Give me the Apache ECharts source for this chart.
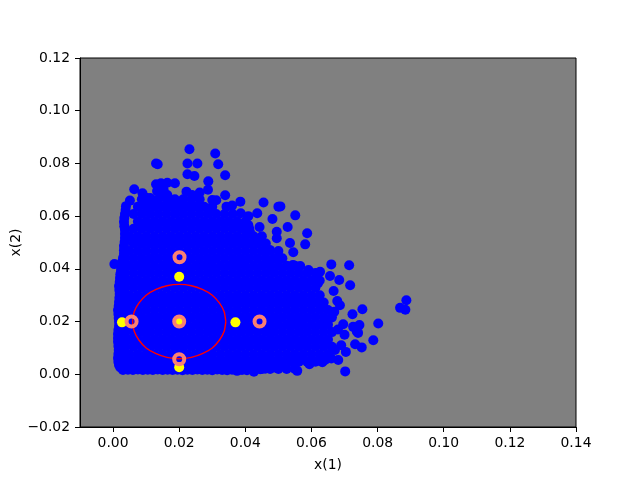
<!DOCTYPE html>
<html>
<head>
<meta charset="utf-8">
<style>html,body{margin:0;padding:0;background:#fff}</style>
<script src="https://cdn.jsdelivr.net/npm/echarts@6/dist/echarts.min.js"></script>
</head>
<body>
<div id="main" style="width:640px;height:480px"></div>
<script>
var xTicks = [0, 0.02, 0.04, 0.06, 0.08, 0.1, 0.12, 0.14];
var yTicks = [-0.02, 0, 0.02, 0.04, 0.06, 0.08, 0.1, 0.12];

// the dense part of the cloud, row by row
var blobY = [0.002, 0.0048, 0.0076, 0.0104, 0.0132, 0.016, 0.0188, 0.0216, 0.0244, 0.0272, 0.03, 0.0328,
  0.0356, 0.0384, 0.0412, 0.044, 0.0468, 0.0496, 0.0524, 0.0552, 0.058, 0.0608, 0.0636, 0.0664];
var blobX = [
  [0.005, 0.0075, 0.01, 0.0125, 0.015, 0.0175, 0.02, 0.0225, 0.025, 0.0275, 0.03, 0.0325, 0.035, 0.0375, 0.04, 0.0425, 0.045, 0.0475, 0.05, 0.0525, 0.055],
  [0.0037, 0.0062, 0.0087, 0.0112, 0.0137, 0.0162, 0.0187, 0.0212, 0.0237, 0.0262, 0.0287, 0.0312, 0.0337, 0.0362, 0.0387, 0.0412, 0.0437, 0.0462, 0.0487, 0.0512, 0.0537, 0.0562, 0.0587, 0.0612],
  [0.0032, 0.005, 0.0075, 0.01, 0.0125, 0.015, 0.0175, 0.02, 0.0225, 0.025, 0.0275, 0.03, 0.0325, 0.035, 0.0375, 0.04, 0.0425, 0.045, 0.0475, 0.05, 0.0525, 0.055, 0.0575, 0.06, 0.0625, 0.065],
  [0.0037, 0.0062, 0.0087, 0.0112, 0.0137, 0.0162, 0.0187, 0.0212, 0.0237, 0.0262, 0.0287, 0.0312, 0.0337, 0.0362, 0.0387, 0.0412, 0.0437, 0.0462, 0.0487, 0.0512, 0.0537, 0.0562, 0.0587, 0.0612, 0.0637, 0.0662],
  [0.0032, 0.005, 0.0075, 0.01, 0.0125, 0.015, 0.0175, 0.02, 0.0225, 0.025, 0.0275, 0.03, 0.0325, 0.035, 0.0375, 0.04, 0.0425, 0.045, 0.0475, 0.05, 0.0525, 0.055, 0.0575, 0.06, 0.0625, 0.065],
  [0.0037, 0.0062, 0.0087, 0.0112, 0.0137, 0.0162, 0.0187, 0.0212, 0.0237, 0.0262, 0.0287, 0.0312, 0.0337, 0.0362, 0.0387, 0.0412, 0.0437, 0.0462, 0.0487, 0.0512, 0.0537, 0.0562, 0.0587, 0.0612, 0.0637, 0.0662],
  [0.0032, 0.005, 0.0075, 0.01, 0.0125, 0.015, 0.0175, 0.02, 0.0225, 0.025, 0.0275, 0.03, 0.0325, 0.035, 0.0375, 0.04, 0.0425, 0.045, 0.0475, 0.05, 0.0525, 0.055, 0.0575, 0.06, 0.0625, 0.065],
  [0.0037, 0.0062, 0.0087, 0.0112, 0.0137, 0.0162, 0.0187, 0.0212, 0.0237, 0.0262, 0.0287, 0.0312, 0.0337, 0.0362, 0.0387, 0.0412, 0.0437, 0.0462, 0.0487, 0.0512, 0.0537, 0.0562, 0.0587, 0.0612, 0.0637],
  [0.0032, 0.005, 0.0075, 0.01, 0.0125, 0.015, 0.0175, 0.02, 0.0225, 0.025, 0.0275, 0.03, 0.0325, 0.035, 0.0375, 0.04, 0.0425, 0.045, 0.0475, 0.05, 0.0525, 0.055, 0.0575, 0.06, 0.0625],
  [0.0037, 0.0062, 0.0087, 0.0112, 0.0137, 0.0162, 0.0187, 0.0212, 0.0237, 0.0262, 0.0287, 0.0312, 0.0337, 0.0362, 0.0387, 0.0412, 0.0437, 0.0462, 0.0487, 0.0512, 0.0537, 0.0562, 0.0587, 0.0612],
  [0.0032, 0.005, 0.0075, 0.01, 0.0125, 0.015, 0.0175, 0.02, 0.0225, 0.025, 0.0275, 0.03, 0.0325, 0.035, 0.0375, 0.04, 0.0425, 0.045, 0.0475, 0.05, 0.0525, 0.055, 0.0575, 0.06],
  [0.0037, 0.0062, 0.0087, 0.0112, 0.0137, 0.0162, 0.0187, 0.0212, 0.0237, 0.0262, 0.0287, 0.0312, 0.0337, 0.0362, 0.0387, 0.0412, 0.0437, 0.0462, 0.0487, 0.0512, 0.0537, 0.0562, 0.0587],
  [0.0032, 0.005, 0.0075, 0.01, 0.0125, 0.015, 0.0175, 0.02, 0.0225, 0.025, 0.0275, 0.03, 0.0325, 0.035, 0.0375, 0.04, 0.0425, 0.045, 0.0475, 0.05, 0.0525, 0.055, 0.0575],
  [0.0037, 0.0062, 0.0087, 0.0112, 0.0137, 0.0162, 0.0187, 0.0212, 0.0237, 0.0262, 0.0287, 0.0312, 0.0337, 0.0362, 0.0387, 0.0412, 0.0437, 0.0462, 0.0487, 0.0512, 0.0537, 0.0562],
  [0.0032, 0.005, 0.0075, 0.01, 0.0125, 0.015, 0.0175, 0.02, 0.0225, 0.025, 0.0275, 0.03, 0.0325, 0.035, 0.0375, 0.04, 0.0425, 0.045, 0.0475, 0.05, 0.0525, 0.055],
  [0.0037, 0.0062, 0.0087, 0.0112, 0.0137, 0.0162, 0.0187, 0.0212, 0.0237, 0.0262, 0.0287, 0.0312, 0.0337, 0.0362, 0.0387, 0.0412, 0.0437, 0.0462, 0.0487, 0.0512],
  [0.0035, 0.005, 0.0075, 0.01, 0.0125, 0.015, 0.0175, 0.02, 0.0225, 0.025, 0.0275, 0.03, 0.0325, 0.035, 0.0375, 0.04, 0.0425, 0.045, 0.0475, 0.05],
  [0.0062, 0.0087, 0.0112, 0.0137, 0.0162, 0.0187, 0.0212, 0.0237, 0.0262, 0.0287, 0.0312, 0.0337, 0.0362, 0.0387, 0.0412, 0.0437, 0.0462],
  [0.005, 0.0075, 0.01, 0.0125, 0.015, 0.0175, 0.02, 0.0225, 0.025, 0.0275, 0.03, 0.0325, 0.035, 0.0375, 0.04, 0.0425, 0.045],
  [0.0062, 0.0087, 0.0112, 0.0137, 0.0162, 0.0187, 0.0212, 0.0237, 0.0262, 0.0287, 0.0312, 0.0337, 0.0362, 0.0387, 0.0412],
  [0.0075, 0.01, 0.0125, 0.015, 0.0175, 0.02, 0.0225, 0.025, 0.0275, 0.03, 0.0325, 0.035, 0.0375, 0.04],
  [0.0062, 0.0087, 0.0112, 0.0137, 0.0162, 0.0187, 0.0212, 0.0237, 0.0262, 0.0287, 0.0312, 0.0337, 0.0362],
  [0.0075, 0.01, 0.0125, 0.015, 0.0175, 0.02, 0.0225, 0.025, 0.0275, 0.03],
  [0.0087, 0.0112, 0.0137, 0.0162, 0.0187, 0.0212, 0.0237, 0.0262]
];

// the points that stand clear of the dense part
var edgeX = [0.0231, 0.0309, 0.013, 0.0135, 0.0225, 0.0255, 0.0318, 0.0225, 0.0246, 0.0339, 0.0288, 0.0187, 0.0164, 0.0145, 0.013,
  0.0064, 0.0089, 0.0051, 0.0339, 0.0164, 0.0385, 0.0455, 0.05, 0.0436, 0.0482, 0.0443, 0.0495, 0.0506, 0.0551, 0.0528, 0.0587,
  0.0581, 0.0545, 0.0566, 0.0591, 0.066, 0.0714, 0.0626, 0.0656, 0.0684, 0.0717, 0.0618, 0.0667, 0.0678, 0.0686, 0.0669, 0.0754,
  0.0724, 0.0887, 0.0868, 0.0884, 0.0802, 0.0745, 0.0696, 0.0787, 0.0737, 0.0752, 0.0732, 0.0704, 0.0681, 0.0633, 0.0594, 0.0557,
  0.0702, 0.0426, 0.0004, 0.0239, 0.0262, 0.0287, 0.0312, 0.036, 0.0409, 0.015, 0.012, 0.01];
var edgeY = [0.0854, 0.0838, 0.08, 0.0797, 0.08, 0.08, 0.0797, 0.0759, 0.0752, 0.0755, 0.0732, 0.0725, 0.0727, 0.0725, 0.0721,
  0.0702, 0.0687, 0.0659, 0.0679, 0.068, 0.0655, 0.0652, 0.0636, 0.0611, 0.0589, 0.0559, 0.0541, 0.0637, 0.0603, 0.0559, 0.0535,
  0.0493, 0.0463, 0.0411, 0.0396, 0.0417, 0.0414, 0.0389, 0.0373, 0.0358, 0.0338, 0.0358, 0.0316, 0.0278, 0.0262, 0.0237, 0.0247,
  0.0228, 0.0281, 0.0252, 0.0245, 0.0193, 0.0187, 0.019, 0.0129, 0.0162, 0.0102, 0.0114, 0.0085, 0.0054, 0.0046, 0.0038, 0.0013,
  0.0011, 0.001, 0.0418, 0.068, 0.069, 0.07, 0.066, 0.064, 0.06, 0.068, 0.066, 0.067];

// outline of the cloud, left side going up
var leftX = [0.003, 0.0022, 0.0018, 0.0016, 0.0015, 0.0016, 0.0017, 0.0016, 0.0015, 0.0015, 0.0015, 0.0016, 0.0018, 0.0018, 0.0017, 0.0016, 0.0015,
  0.0017, 0.0018, 0.0019, 0.002, 0.0019, 0.0018, 0.002, 0.0021, 0.0022, 0.0024, 0.0026, 0.0027, 0.003,
  0.0033, 0.0033, 0.0033, 0.0035, 0.0036, 0.0036, 0.0036, 0.0034, 0.0033, 0.0034, 0.0036, 0.0038, 0.0039];
var leftY = [0.0016, 0.0026, 0.0035, 0.0048, 0.0062, 0.0077, 0.0092, 0.0107, 0.0123, 0.0138, 0.0153, 0.0168, 0.0183, 0.0199, 0.0214, 0.0229, 0.0244,
  0.0259, 0.0274, 0.029, 0.0305, 0.032, 0.0335, 0.035, 0.0365, 0.038, 0.0396, 0.0411, 0.0426, 0.0441,
  0.0456, 0.0471, 0.0487, 0.0502, 0.0517, 0.0532, 0.0547, 0.0562, 0.0578, 0.0593, 0.0608, 0.0623, 0.0638];

// bottom side
var bottomX = [0.0045, 0.006, 0.0075, 0.009, 0.0105, 0.012, 0.0135, 0.015, 0.0165, 0.018, 0.0195, 0.021, 0.0225, 0.024, 0.0255,
  0.027, 0.0285, 0.03, 0.0315, 0.033, 0.0345, 0.036, 0.0375, 0.039, 0.0405, 0.0445, 0.046, 0.0475, 0.049, 0.0505];
var bottomY = [0.0017, 0.0016, 0.0018, 0.0016, 0.0017, 0.0016, 0.0018, 0.0016, 0.0017, 0.0016, 0.0017, 0.0015, 0.0017, 0.0016, 0.0018,
  0.0016, 0.0017, 0.0015, 0.0018, 0.0016, 0.0015, 0.0017, 0.0013, 0.0016, 0.0015, 0.0019, 0.0021, 0.0024, 0.0026, 0.003];

// top and right sides
var outerX = [0.03, 0.0343, 0.0386, 0.0409, 0.0379, 0.0444, 0.0495, 0.0535, 0.0414, 0.0474, 0.0505, 0.0544, 0.0222, 0.0112, 0.0133,
  0.0153, 0.0178, 0.062, 0.0633, 0.065, 0.0671, 0.0641, 0.0726, 0.0741, 0.068, 0.07, 0.069, 0.066,
  0.06, 0.0625, 0.0612, 0.0625, 0.0637, 0.065, 0.0662, 0.0587, 0.0612];
var outerY = [0.0661, 0.0636, 0.0611, 0.0566, 0.0566, 0.0516, 0.0516, 0.0498, 0.054, 0.0472, 0.0441, 0.0415, 0.0693, 0.0669, 0.0695,
  0.07, 0.066, 0.0346, 0.027, 0.0206, 0.0092, 0.0054, 0.018, 0.0157, 0.017, 0.015, 0.011, 0.006,
  0.0356, 0.0356, 0.0328, 0.03, 0.0272, 0.0244, 0.0216, 0.0384, 0.0384];

var yellowX = [0.02, 0.0027, 0.037, 0.02, 0.02];
var yellowY = [0.037, 0.0197, 0.0197, 0.0027, 0.02];

var ringX = [0.0201, 0.02, 0.0056, 0.0443, 0.02];
var ringY = [0.0444, 0.02, 0.02, 0.02, 0.0057];

var circleX = [0.0341, 0.0336, 0.0322, 0.03, 0.027, 0.0237, 0.02, 0.0163, 0.013, 0.01, 0.0078, 0.0064, 0.0059,
  0.0064, 0.0078, 0.01, 0.013, 0.0163, 0.02, 0.0237, 0.027, 0.03, 0.0322, 0.0336, 0.0341];
var circleY = [0.02, 0.0237, 0.027, 0.03, 0.0322, 0.0336, 0.0341, 0.0336, 0.0322, 0.03, 0.027, 0.0237, 0.02,
  0.0163, 0.013, 0.01, 0.0078, 0.0064, 0.0059, 0.0064, 0.0078, 0.01, 0.013, 0.0163, 0.02];

function zip(xs, ys) {
  var out = [];
  for (var i = 0; i < xs.length; i++) {
    out.push([xs[i], ys[i]]);
  }
  return out;
}

var cloud = zip(edgeX, edgeY).concat(zip(leftX, leftY), zip(bottomX, bottomY), zip(outerX, outerY));
for (var r = 0; r < blobY.length; r++) {
  for (var c = 0; c < blobX[r].length; c++) {
    cloud.push([blobX[r][c], blobY[r]]);
  }
}

function tickLabel(v) {
  return v.toFixed(2).replace('-', '\u2212');
}

var fontName = 'DejaVu Sans';
var chart = echarts.init(document.getElementById('main'), null, { renderer: 'canvas' });

var option = {
  animation: false,
  backgroundColor: '#ffffff',
  grid: {
    left: 80, top: 58, width: 496, height: 369, outerBoundsMode: 'none',
    show: true, backgroundColor: '#808080', borderColor: '#000000', borderWidth: 1
  },
  xAxis: {
    type: 'value', min: -0.01, max: 0.14,
    name: 'x(1)', nameLocation: 'middle', nameGap: 31, nameMoveOverlap: false,
    nameTextStyle: { fontFamily: fontName, fontSize: 13.9, color: '#000' },
    splitLine: { show: false },
    axisLine: { show: true, onZero: false, lineStyle: { color: '#000', width: 1 } },
    axisTick: { show: true, length: 5, inside: false, customValues: xTicks, lineStyle: { color: '#000', width: 1 } },
    axisLabel: { customValues: xTicks, formatter: tickLabel, margin: 9, fontFamily: fontName, fontSize: 13.9, color: '#000' }
  },
  yAxis: {
    type: 'value', min: -0.02, max: 0.12,
    name: 'x(2)', nameLocation: 'middle', nameGap: 57, nameRotate: 90, nameMoveOverlap: false,
    nameTextStyle: { fontFamily: fontName, fontSize: 13.9, color: '#000' },
    splitLine: { show: false },
    axisLine: { show: true, onZero: false, lineStyle: { color: '#000', width: 1 } },
    axisTick: { show: true, length: 5, inside: false, customValues: yTicks, lineStyle: { color: '#000', width: 1 } },
    axisLabel: { customValues: yTicks, formatter: tickLabel, margin: 10, padding: [2, 0, 0, 0], fontFamily: fontName, fontSize: 13.9, color: '#000' }
  },
  series: [
    {
      type: 'scatter', data: cloud, symbol: 'circle', symbolSize: 10, large: false,
      itemStyle: { color: '#0000ff', opacity: 1 }, z: 2
    },
    {
      type: 'scatter', data: zip(yellowX, yellowY), symbol: 'circle', symbolSize: 10,
      itemStyle: { color: '#ffff00', opacity: 1 }, z: 3
    },
    {
      type: 'line', data: zip(circleX, circleY), showSymbol: false, smooth: 0.2,
      lineStyle: { color: '#ff0000', width: 1.4 }, z: 4
    },
    {
      type: 'scatter', data: zip(ringX, ringY), symbol: 'circle', symbolSize: 10,
      itemStyle: { color: 'rgba(0,0,0,0)', borderColor: '#fa8072', borderWidth: 4, opacity: 1 }, z: 5
    }
  ]
};
chart.setOption(option);
</script>
</body>
</html>
